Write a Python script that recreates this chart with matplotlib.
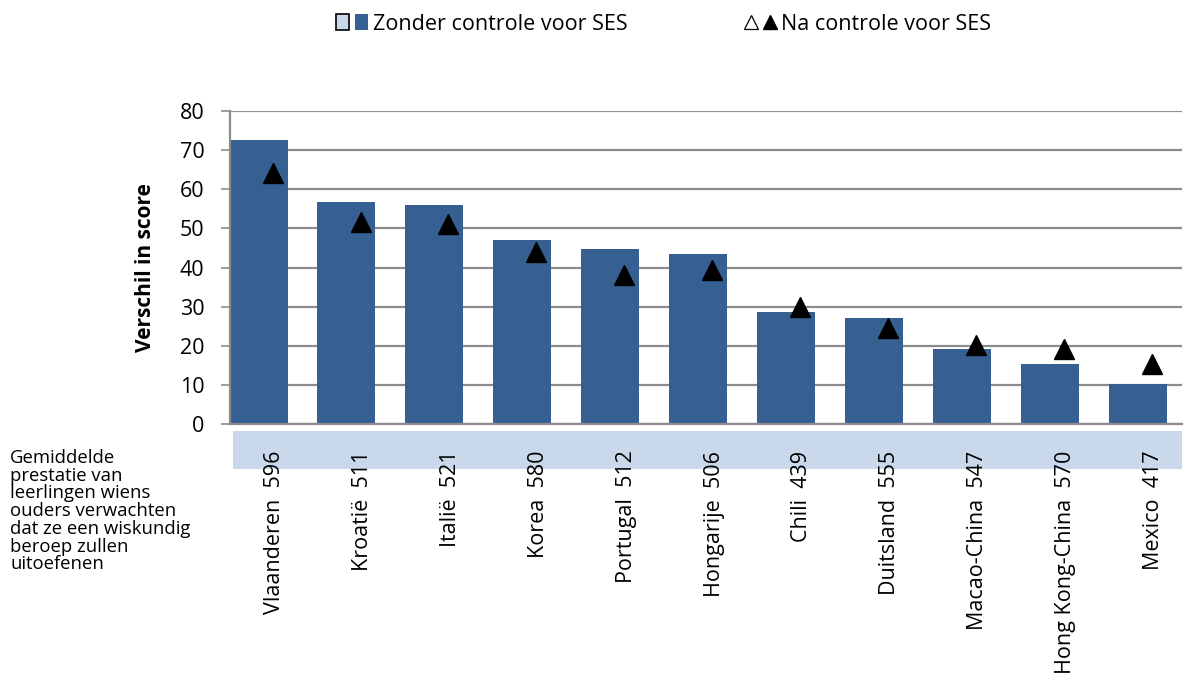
import matplotlib
matplotlib.use("Agg")
import matplotlib.pyplot as plt
import matplotlib.transforms as mtransforms
from matplotlib.patches import Rectangle, Patch
from matplotlib.lines import Line2D
from matplotlib.legend_handler import HandlerTuple
import numpy as np

# data
countries = ["Vlaanderen", "Kroatië", "Italië", "Korea", "Portugal", "Hongarije",
             "Chili", "Duitsland", "Macao-China", "Hong Kong-China", "Mexico"]
mean_scores = [596, 511, 521, 580, 512, 506, 439, 555, 547, 570, 417]
diff_no_ses = [72.5, 56.7, 55.9, 46.9, 44.8, 43.5, 28.6, 27.0, 19.2, 15.5, 10.3]
diff_ses = [64.1, 51.6, 51.2, 44.0, 38.2, 39.4, 29.9, 24.5, 20.3, 19.3, 15.3]

bar_color = "#376092"
band_color = "#C9D9EB"
grid_color = "#8C8C8C"
fs = 15.5

plt.rcParams["font.family"] = ["Open Sans", "DejaVu Sans"]

W, H = 1184, 690
fig = plt.figure(figsize=(W / 100, H / 100), dpi=100)
ax = fig.add_axes([230 / W, 1 - 424.3 / H, 952 / W, 313.6 / H])

x = np.arange(len(countries))
ax.bar(x, diff_no_ses, width=0.66, color=bar_color, zorder=2)
ax.plot(x + 0.16, diff_ses, ls="", marker="^", ms=15, color="black", zorder=3)

ax.set_xlim(-0.325, 10.505)
ax.set_ylim(0, 80)
ax.set_yticks(range(0, 81, 10))
ax.tick_params(axis="y", labelsize=fs, length=6.5, color=grid_color, width=1.2, pad=12)
ax.grid(axis="y", color=grid_color, lw=1.6, zorder=0)
ax.set_axisbelow(True)
for s in ["top", "right"]:
    ax.spines[s].set_visible(False)
for s in ["left", "bottom"]:
    ax.spines[s].set_color(grid_color)
    ax.spines[s].set_linewidth(1.6)

# x labels: country plus mean score, rotated
ax.set_xticks(x)
ax.set_xticklabels([f"{c}  {s}" for c, s in zip(countries, mean_scores)],
                   rotation=90, fontsize=fs, va="top", ha="center")
ax.tick_params(axis="x", length=0, pad=19)
offset = mtransforms.ScaledTranslation(16 / 100, 0, fig.dpi_scale_trans)
for lab in ax.get_xticklabels():
    lab.set_transform(lab.get_transform() + offset)

# light blue band behind the labels
ax.add_patch(Rectangle((3 / 952, -0.1425), 1 - 3 / 952, 0.121, transform=ax.transAxes,
                       facecolor=band_color, edgecolor="none", clip_on=False, zorder=0))

ax.set_ylabel("Verschil in score", fontsize=15, fontweight="bold")
ax.yaxis.set_label_coords(-0.078, 0.5)

fig.text(10 / W, 1 - 449 / H,
         "Gemiddelde\nprestatie van\nleerlingen wiens\nouders verwachten\n"
         "dat ze een wiskundig\nberoep zullen\nuitoefenen",
         fontsize=13.3, va="top", ha="left", linespacing=0.98)

# legend at the top
h1 = (Patch(facecolor=band_color, edgecolor="black", lw=1.2), Patch(facecolor=bar_color))
h2 = (Line2D([], [], ls="", marker="^", ms=10, mfc="white", mec="black", mew=0.9),
      Line2D([], [], ls="", marker="^", ms=10, color="black"))
fig.legend([h1, h2], ["Zonder controle voor SES", "Na controle voor SES"],
           handler_map={tuple: HandlerTuple(ndivide=None, pad=0.3)},
           loc="center left", bbox_to_anchor=(336 / W, 1 - 24 / H), ncol=2,
           frameon=False, fontsize=fs, handlelength=1.5, handletextpad=0.2,
           columnspacing=5.45, borderaxespad=0, borderpad=0)

fig.savefig("out.png", dpi=100)
